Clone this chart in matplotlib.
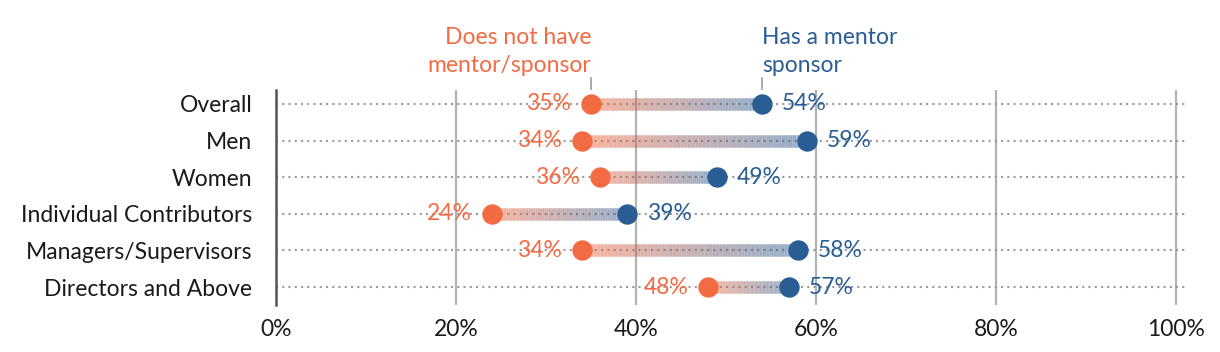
import matplotlib.pyplot as plt
import numpy as np
from matplotlib.collections import LineCollection
from matplotlib.colors import to_rgba

plt.rcParams['font.family'] = ['Lato', 'DejaVu Sans']

categories = ["Overall", "Men", "Women", "Individual Contributors",
              "Managers/Supervisors", "Directors and Above"]
no_mentor = [35, 34, 36, 24, 34, 48]
has_mentor = [54, 59, 49, 39, 58, 57]
xticks = [0, 20, 40, 60, 80, 100]

orange = "#F26B43"
blue = "#2A5D94"
fs = 16.5

fig = plt.figure(figsize=(12.2, 3.52), dpi=100)
ax = fig.add_axes([276 / 1220, 47 / 352, (1187 - 276) / 1220, 215 / 352])

ax.set_xlim(0, 101.2)
ax.set_ylim(5.49, -0.38)

# vertical grid
for x in xticks:
    ax.axvline(x, color="#b3b3b3", lw=1.6, zorder=1)

# dotted row lines
for i in range(len(categories)):
    ax.axhline(i, color="#9a9a9a", lw=1.5, ls=(0, (1, 2)), zorder=2)

# gradient bars
c0 = np.array(to_rgba(orange, 0.5))
c1 = np.array(to_rgba(blue, 0.5))
n = 60
for i, (a, b) in enumerate(zip(no_mentor, has_mentor)):
    xs = np.linspace(a, b, n + 1)
    segs = [[(xs[k], i), (xs[k + 1], i)] for k in range(n)]
    t = np.linspace(0, 1, n)[:, None]
    cols = c0 * (1 - t) + c1 * t
    lc = LineCollection(segs, colors=cols, linewidths=9, capstyle="butt", zorder=3)
    ax.add_collection(lc)

y = np.arange(len(categories))
ax.scatter(no_mentor, y, s=215, color=orange, zorder=4, linewidths=0)
ax.scatter(has_mentor, y, s=215, color=blue, zorder=4, linewidths=0)

for i, (a, b) in enumerate(zip(no_mentor, has_mentor)):
    ax.text(a - 2.2, i, f"{a}%", color=orange, fontsize=fs, ha="right", va="center", zorder=5)
    ax.text(b + 2.2, i, f"{b}%", color=blue, fontsize=fs, ha="left", va="center", zorder=5)

# series labels
ax.text(no_mentor[0], -0.76, "Does not have\nmentor/sponsor", color=orange, fontsize=fs,
        ha="right", va="bottom", linespacing=1.4, clip_on=False)
ax.text(has_mentor[0], -0.76, "Has a mentor\nsponsor", color=blue, fontsize=fs,
        ha="left", va="bottom", linespacing=1.4, clip_on=False)
for v in (no_mentor[0], has_mentor[0]):
    ax.plot([v, v], [-0.71, -0.4], color="#999999", lw=1.2, clip_on=False)

ax.set_yticks(y)
ax.set_yticklabels(categories, fontsize=fs, color="#1a1a1a")
ax.set_xticks(xticks)
ax.set_xticklabels([f"{x}%" for x in xticks], fontsize=fs, color="#1a1a1a")
ax.tick_params(axis="y", length=0, pad=17)
ax.tick_params(axis="x", length=0, pad=10)

for s in ["top", "right", "bottom"]:
    ax.spines[s].set_visible(False)
ax.spines["left"].set_color("#555555")
ax.spines["left"].set_linewidth(1.8)
ax.spines["left"].set_zorder(6)

fig.savefig("out.png", dpi=100)
